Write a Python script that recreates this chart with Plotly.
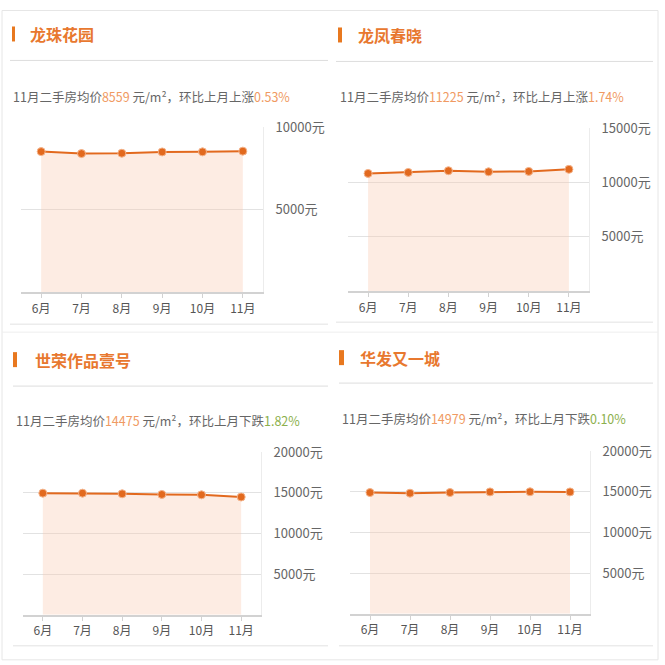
import plotly.graph_objects as go

W = H = 665

months = ["6月", "7月", "8月", "9月", "10月", "11月"]

names = ["龙珠花园", "龙凤春晓", "世荣作品壹号", "华发又一城"]
prices_longzhu = [8530, 8410, 8430, 8510, 8514, 8559]
prices_longfeng = [10850, 10940, 11100, 11000, 11033, 11225]
prices_shirong = [14950, 14950, 14870, 14790, 14743, 14475]
prices_huafa = [14900, 14820, 14900, 14980, 14994, 14979]
nov_price = ["8559", "11225", "14475", "14979"]
change_word = ["上涨", "上涨", "下跌", "下跌"]
change_pct = ["0.53%", "1.74%", "1.82%", "0.10%"]
y_max = [10000, 15000, 20000, 20000]
y_ticks = [[5000, 10000], [5000, 10000, 15000],
           [5000, 10000, 15000, 20000], [5000, 10000, 15000, 20000]]

series = [prices_longzhu, prices_longfeng, prices_shirong, prices_huafa]

ORANGE = "#e2691e"
FILL = "rgba(250,200,175,0.35)"
GRAY_TXT = "#666666"
NUM_ORANGE = "#f09a62"
GREEN = "#8cb04c"


def px(v):
    return v / W


def py(v):
    # the page came out ~10px low and slightly squashed, so compensate
    v = (v - 10.5) / 0.986
    return min(1.0, max(0.0, 1 - v / H))


# plot boxes in pixels: left, right, top, bottom
boxes = [(21, 263, 128, 293), (348, 589, 129, 292),
         (23, 261, 453, 616), (350, 590, 452, 615)]
# title text left, title y, bar x0, bar x1, bar y0, bar y1
heads = [(28, 35, 12, 15, 27, 42), (356, 36, 338, 342, 28, 43),
         (33, 361, 13, 17, 353, 368), (358, 359, 339, 344, 351, 366)]
# separator y, x0, x1 ; subtitle x, y ; bottom line y
seps = [(61, 10, 328, 11, 97, 325), (62, 336, 653, 338, 97, 323),
        (387, 13, 328, 14, 421, 647), (384, 339, 653, 340, 419, 647)]

fig = go.Figure()
shapes = []
annotations = []

for i in range(4):
    xa = "x" if i == 0 else f"x{i+1}"
    ya = "y" if i == 0 else f"y{i+1}"
    fig.add_trace(go.Scatter(
        x=months, y=series[i], xaxis=xa, yaxis=ya,
        mode="lines+markers", fill="tozeroy", fillcolor=FILL,
        line=dict(color=ORANGE, width=2),
        marker=dict(size=8, color=ORANGE, line=dict(color="#f4b48c", width=1)),
        showlegend=False, hoverinfo="x+y",
    ))

    l, r, t, b = boxes[i]
    sfx = "" if i == 0 else str(i + 1)
    fig.layout["xaxis" + sfx] = dict(
        domain=[px(l), px(r)], anchor=ya, range=[-0.5, 5.5],
        showline=True, linecolor="#d2d2d2", linewidth=2,
        ticks="outside", ticklen=4, tickcolor="#d2d2d2",
        showgrid=False, tickfont=dict(size=12, color="#555555"),
        fixedrange=True,
    )
    fig.layout["yaxis" + sfx] = dict(
        domain=[py(b), py(t)], anchor=xa, side="right",
        range=[0, y_max[i]], tickvals=y_ticks[i],
        ticktext=[f"{v}元" for v in y_ticks[i]],
        showgrid=True, gridcolor="#e2e2e2", gridwidth=1,
        showline=True, linecolor="#ececec", linewidth=1,
        zeroline=False, ticks="", ticklabelstandoff=9,
        tickfont=dict(size=13, color="#666666"),
        fixedrange=True,
    )

    tx, ty, bx0, bx1, by0, by1 = heads[i]
    shapes.append(dict(type="rect", xref="paper", yref="paper",
                       x0=px(bx0), x1=px(bx1), y0=py(by1), y1=py(by0),
                       fillcolor="#e8781f", line=dict(width=0)))
    annotations.append(dict(
        text=f"<b>{names[i]}</b>", xref="paper", yref="paper",
        x=px(tx), y=py(ty), xanchor="left", yanchor="middle",
        showarrow=False, font=dict(size=16, color="#e8782f"),
    ))

    sy, sx0, sx1, stx, sty, by = seps[i]
    shapes.append(dict(type="line", xref="paper", yref="paper",
                       x0=px(sx0), x1=px(sx1), y0=py(sy), y1=py(sy),
                       line=dict(color="#dddddd", width=1)))
    shapes.append(dict(type="line", xref="paper", yref="paper",
                       x0=px(sx0), x1=px(sx1), y0=py(by), y1=py(by),
                       line=dict(color="#e2e2e2", width=1)))
    pct_color = NUM_ORANGE if change_word[i] == "上涨" else GREEN
    sub = (f"11月二手房均价<span style='color:{NUM_ORANGE}'>{nov_price[i]}</span>"
           f" 元/m²，环比上月{change_word[i]}"
           f"<span style='color:{pct_color}'>{change_pct[i]}</span>")
    annotations.append(dict(
        text=sub, xref="paper", yref="paper",
        x=px(stx), y=py(sty), xanchor="left", yanchor="middle",
        showarrow=False, font=dict(size=12.5, color=GRAY_TXT),
    ))

# faint card outlines
shapes.append(dict(type="rect", xref="paper", yref="paper",
                   x0=px(2), x1=px(658), y0=py(661), y1=py(11),
                   line=dict(color="#e6e6e6", width=1)))
shapes.append(dict(type="line", xref="paper", yref="paper",
                   x0=px(2), x1=px(658), y0=py(333), y1=py(333),
                   line=dict(color="#eeeeee", width=1)))

fig.update_layout(
    width=W, height=H,
    margin=dict(l=0, r=0, t=0, b=0),
    paper_bgcolor="white", plot_bgcolor="white",
    font=dict(family="Noto Sans CJK SC, Noto Sans, sans-serif"),
    shapes=shapes, annotations=annotations,
)

# pin the graph to the top-left corner of the page
pin = ("document.body.style.margin='0';"
       "document.body.style.overflow='hidden';"
       "var gd=document.getElementById('{plot_id}');"
       "gd.style.position='fixed';gd.style.top='0';gd.style.left='0';")

fig.write_html("out.html", config={"displayModeBar": False}, post_script=pin)
